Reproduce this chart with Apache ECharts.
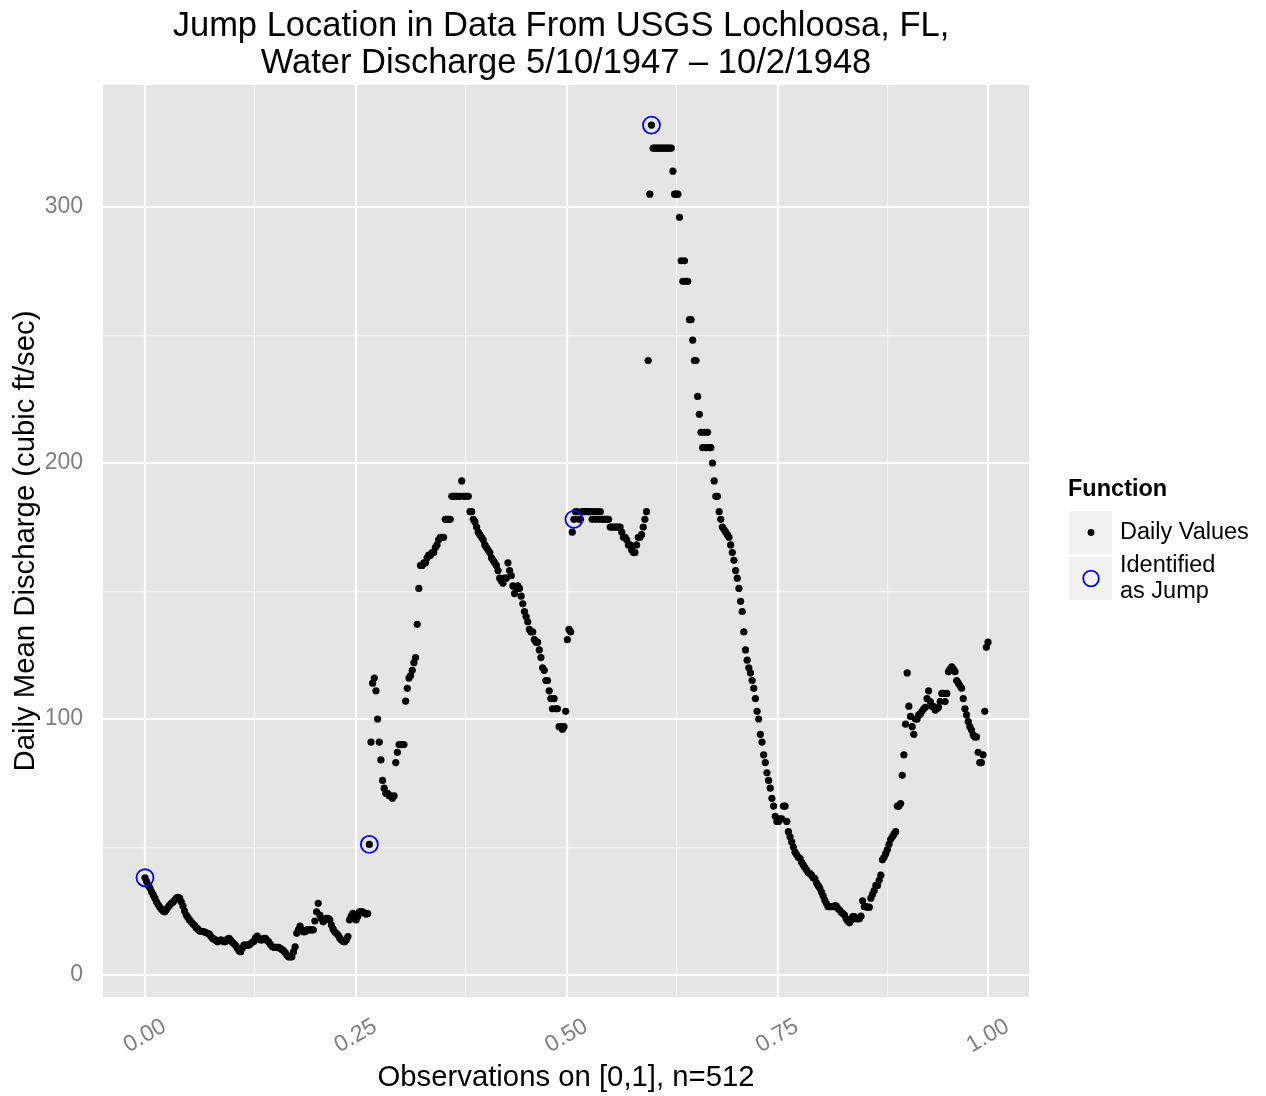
<!DOCTYPE html>
<html>
<head>
<meta charset="utf-8">
<script src="https://cdn.jsdelivr.net/npm/echarts@6/dist/echarts.min.js"></script>
<style>
  html, body { margin: 0; padding: 0; background: #ffffff; }
  #chart { width: 1266px; height: 1096px; }
</style>
</head>
<body>
<div id="chart"></div>
<script>
// Daily mean discharge (cubic ft/sec), 512 consecutive observations
const discharge = [
  38, 36.5, 35, 34, 32.5, 31.3, 30, 28.6, 27.5, 26.5,
  25.7, 25, 24.7, 25.5, 26.5, 27.3, 28, 28.5, 29.3, 30,
  30.3, 30, 28.6, 27, 25, 23.4, 22.5, 21.5, 20.8, 20,
  19.4, 18.5, 18, 17.3, 17, 17, 16.9, 16.5, 16.3, 16,
  15, 14.3, 14, 13.5, 13, 13.4, 13.7, 13.4, 13, 13.2,
  14, 14.3, 13.5, 12.8, 12.2, 11.5, 10.5, 9.5, 9.1, 10.5,
  11.7, 11.7, 11.7, 11.7, 12.2, 12.8, 13.2, 14.5, 15.2, 14.3,
  13.7, 13.7, 14.3, 14.3, 13.5, 13, 12, 11.2, 10.8, 10.8,
  10.8, 10.8, 10.4, 10, 9.5, 8.8, 7.8, 7.1, 7.1, 7.1,
  9, 11, 16.3, 17.6, 19.1, 17.6, 16.9, 16.9, 17.6, 17.6,
  17.6, 17.6, 17.6, 21.1, 24.7, 28, 23.4, 22.1, 20.8, 21.5,
  22.1, 22.1, 21.5, 19.5, 18, 16.9, 16.3, 15.6, 14.5, 13.7,
  13.2, 13, 13.7, 15, 21.5, 23, 24.1, 22.8, 21.5, 23,
  24.7, 24.7, 24.7, 24.2, 23.8, 24, 51, 91, 114, 116,
  111, 100, 91, 84, 76, 73, 71, 71, 70, 70,
  69, 70, 83, 87, 90, 90, 90, 90, 107, 112,
  116, 117, 119, 122, 124, 137, 151, 160, 160, 161,
  161, 163, 164, 164, 165, 165, 167, 168, 170, 171,
  171, 171, 178, 178, 178, 178, 187, 187, 187, 187,
  187, 187, 193, 187, 187, 187, 187, 181, 181, 178,
  177, 175, 173, 172, 171, 170, 168, 167, 166, 165,
  163, 162, 161, 160, 158, 155, 154, 153, 155, 155,
  161, 158, 156, 152, 149, 151, 152, 151, 148, 145,
  142, 140, 138, 135, 134, 134, 131, 130, 130, 127,
  124, 120, 119, 115, 115, 111, 108, 104, 108, 104,
  104, 97, 97, 96, 97, 103, 131, 135, 134, 173,
  178, 181, 181, 178, 178, 181, 181, 181, 181, 181,
  181, 178, 181, 178, 181, 178, 181, 178, 178, 178,
  178, 178, 175, 175, 175, 175, 175, 175, 175, 173,
  171, 171, 170, 168, 168, 166, 165, 165, 168, 171,
  171, 172, 175, 178, 181, 240, 305, 332, 323, 323,
  323, 323, 323, 323, 323, 323, 323, 323, 323, 323,
  314, 305, 305, 305, 296, 279, 271, 279, 271, 271,
  256, 256, 248, 240, 240, 226, 219, 212, 206, 212,
  206, 212, 206, 206, 200, 193, 187, 187, 181, 178,
  175, 174, 173, 172, 171, 168, 165, 162, 158, 155,
  151, 146, 142, 134, 127, 123, 120, 118, 115, 112,
  108, 103, 100, 94, 91, 86, 83, 79, 76, 73,
  69, 66, 62, 60, 60, 61, 61, 66, 66, 60,
  56, 54, 52, 50, 48, 47, 46, 45.6, 44, 43,
  42, 41, 40, 39.7, 39, 38, 37.8, 36, 35, 34,
  32.5, 31, 29.3, 28, 26.7, 26.7, 26.7, 26.7, 27, 27,
  26, 25.4, 24.5, 24, 23.4, 22, 21, 20.4, 21.5, 22.8,
  22.8, 22, 22, 22, 23, 29, 26.7, 26.7, 26.5, 26.5,
  30, 31.5, 33, 35, 35, 37, 39, 45, 46, 47.5,
  49, 51, 53, 54, 55, 56, 66, 66, 67, 78,
  86, 98, 118, 105, 101, 97, 94, 100, 100, 101.6,
  102, 103, 104, 104.6, 108, 111, 106.8, 105, 104.8, 103.5,
  104, 104.6, 106.8, 110, 110, 106.8, 110, 118.5, 119.5, 120.4,
  119.5, 118.5, 115, 114, 113, 112, 108, 104, 101.6, 99,
  97, 95.7, 93.8, 93, 93, 87, 83, 83, 86, 103,
  128, 130
];

// Observations flagged as jump locations (0-based positions)
const jumpIndex = [0, 136, 260, 307];

// Axis breaks
const xTicks = [0, 0.25, 0.5, 0.75, 1];
const xTickLabels = ['0.00', '0.25', '0.50', '0.75', '1.00'];
const xMinor = [0.125, 0.375, 0.625, 0.875];
const yTicks = [0, 100, 200, 300];
const yTickLabels = ['0', '100', '200', '300'];
const yMinor = [50, 150, 250];

const n = discharge.length;
const pos = i => i / (n - 1);
const dailyPoints = discharge.map((v, i) => [pos(i), v]);
const jumpPoints = jumpIndex.map(i => [pos(i), discharge[i]]);

const FONT = '"Liberation Sans", Arial, Helvetica, sans-serif';
const GRID = { left: 103, top: 85, width: 926, height: 912 };

const minorStyle = { color: '#F2F2F2', width: 1.3, type: 'solid' };
const majorStyle = { color: '#FFFFFF', width: 2.2, type: 'solid' };
const gridLines = []
  .concat(xMinor.map(v => ({ xAxis: v, lineStyle: minorStyle })))
  .concat(yMinor.map(v => ({ yAxis: v, lineStyle: minorStyle })))
  .concat(xTicks.map(v => ({ xAxis: v, lineStyle: majorStyle })))
  .concat(yTicks.map(v => ({ yAxis: v, lineStyle: majorStyle })));

const chart = echarts.init(document.getElementById('chart'), null, { renderer: 'canvas' });

chart.setOption({
  animation: false,
  backgroundColor: '#FFFFFF',
  textStyle: { fontFamily: FONT },
  grid: Object.assign({
    backgroundColor: '#E5E5E5', show: true, borderWidth: 0, z: 0,
    containLabel: false, outerBoundsMode: 'none'
  }, GRID),
  xAxis: {
    type: 'value',
    min: -0.0498,
    max: 1.0486,
    name: 'Observations on [0,1], n=512',
    nameLocation: 'middle',
    nameGap: 63,
    nameTextStyle: { color: '#000000', fontSize: 29.3, fontFamily: FONT },
    axisLine: { show: false },
    splitLine: { show: false },
    axisTick: {
      show: true, length: 9, customValues: xTicks,
      lineStyle: { color: '#7F7F7F', width: 1.5 }
    },
    axisLabel: {
      customValues: xTicks,
      formatter: v => xTickLabels[xTicks.indexOf(v)],
      rotate: 30,
      align: 'center',
      verticalAlign: 'middle',
      margin: 39,
      color: '#7F7F7F',
      fontSize: 23,
      fontFamily: FONT
    }
  },
  yAxis: {
    type: 'value',
    min: -8.59,
    max: 347.66,
    name: 'Daily Mean Discharge (cubic ft/sec)',
    nameLocation: 'middle',
    nameGap: 63,
    nameMoveOverlap: false,
    nameRotate: 90,
    nameTextStyle: { color: '#000000', fontSize: 29.3, fontFamily: FONT },
    axisLine: { show: false },
    splitLine: { show: false },
    axisTick: {
      show: true, length: 9, customValues: yTicks,
      lineStyle: { color: '#7F7F7F', width: 1.5 }
    },
    axisLabel: {
      customValues: yTicks,
      formatter: v => yTickLabels[yTicks.indexOf(v)],
      margin: 20,
      color: '#7F7F7F',
      fontSize: 23,
      fontFamily: FONT
    }
  },
  series: [
    {
      // panel grid lines (major and minor), kept beneath the points
      type: 'scatter',
      data: [],
      z: 1,
      silent: true,
      markLine: {
        z: 1,
        silent: true,
        symbol: ['none', 'none'],
        label: { show: false },
        emphasis: { disabled: true },
        animation: false,
        data: gridLines
      }
    },
    {
      name: 'Daily Values',
      type: 'scatter',
      data: dailyPoints,
      symbol: 'circle',
      symbolSize: 7.2,
      itemStyle: { color: '#000000', opacity: 1 },
      z: 6,
      silent: true
    },
    {
      name: 'Identified as Jump',
      type: 'scatter',
      data: jumpPoints,
      symbol: 'circle',
      symbolSize: 17,
      itemStyle: { color: 'rgba(0,0,0,0)', borderColor: '#0000FF', borderWidth: 1.8, opacity: 1 },
      z: 7,
      silent: true
    }
  ],
  graphic: [
    // two-line title
    {
      type: 'text', x: 561, y: 26,
      style: {
        text: 'Jump Location in Data From USGS Lochloosa, FL,',
        fill: '#000000', font: '34.5px ' + FONT,
        align: 'center', verticalAlign: 'middle'
      }
    },
    {
      type: 'text', x: 566, y: 63,
      style: {
        text: 'Water Discharge 5/10/1947 \u2013 10/2/1948',
        fill: '#000000', font: '34.5px ' + FONT,
        align: 'center', verticalAlign: 'middle'
      }
    },
    // legend
    {
      type: 'text', x: 1068, y: 490,
      style: {
        text: 'Function', fill: '#000000', font: 'bold 23.5px ' + FONT,
        align: 'left', verticalAlign: 'middle'
      }
    },
    { type: 'rect', shape: { x: 1069, y: 511, width: 43, height: 43 }, style: { fill: '#F2F2F2' } },
    { type: 'rect', shape: { x: 1069, y: 557, width: 43, height: 43 }, style: { fill: '#F2F2F2' } },
    { type: 'circle', shape: { cx: 1091, cy: 532.5, r: 3.4 }, style: { fill: '#000000' } },
    { type: 'circle', shape: { cx: 1091, cy: 578.5, r: 7.8 }, style: { fill: 'none', stroke: '#0000FF', lineWidth: 1.8 } },
    {
      type: 'text', x: 1120, y: 533,
      style: {
        text: 'Daily Values', fill: '#000000', font: '23.5px ' + FONT,
        align: 'left', verticalAlign: 'middle'
      }
    },
    {
      type: 'text', x: 1120, y: 579,
      style: {
        text: 'Identified\nas Jump', fill: '#000000', font: '23.5px ' + FONT,
        lineHeight: 26, align: 'left', verticalAlign: 'middle'
      }
    }
  ]
});
</script>
</body>
</html>
